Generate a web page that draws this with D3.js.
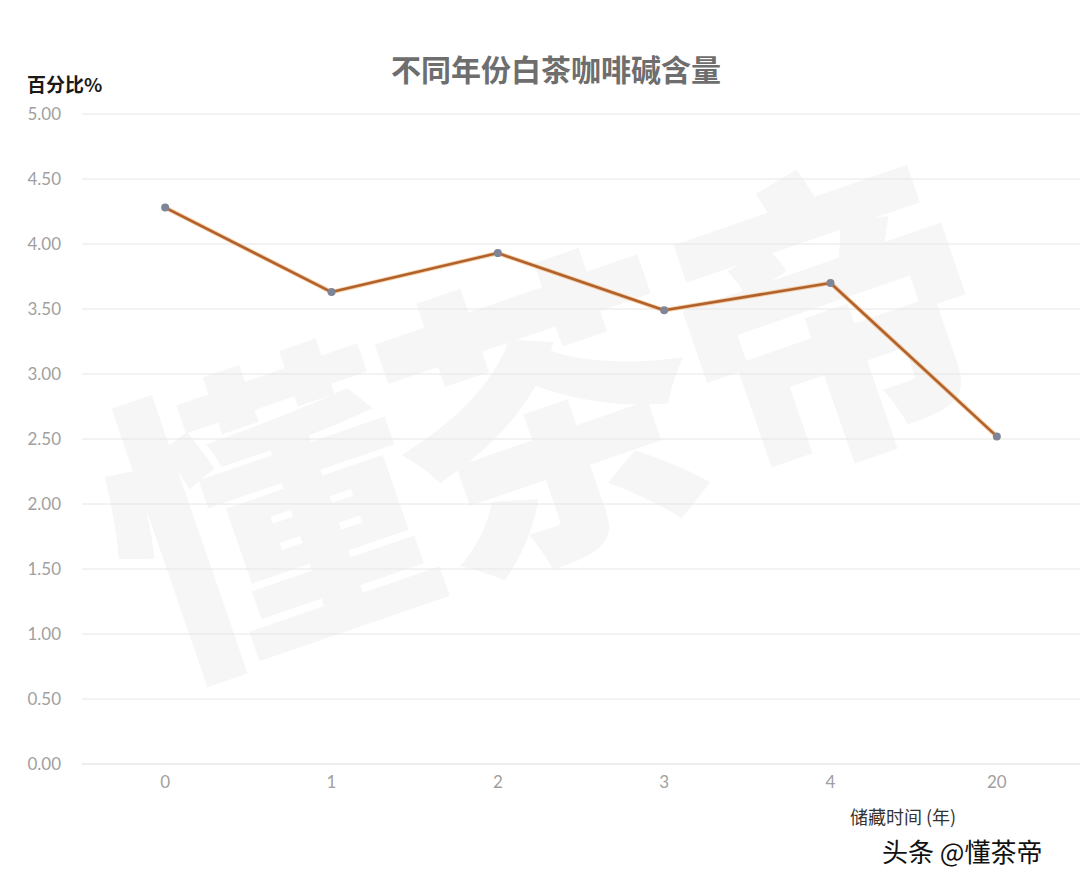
<!DOCTYPE html>
<html>
<head>
<meta charset="utf-8">
<script src="https://cdn.jsdelivr.net/npm/d3@7"></script>
<style>
  html, body { margin: 0; padding: 0; background: #fff; }
  svg { display: block; }
</style>
</head>
<body>
<svg id="chart" width="1080" height="881"></svg>
<script>
// Storage years and caffeine content (%)
const years = ["0", "1", "2", "3", "4", "20"];
const caffeine = [4.28, 3.63, 3.93, 3.49, 3.70, 2.52];
const yTicks = [0, 0.5, 1, 1.5, 2, 2.5, 3, 3.5, 4, 4.5, 5];

const title = "不同年份白茶咖啡碱含量";
const yLabel = "百分比%";
const xLabel = "储藏时间 (年)";
const brand = "头条 @懂茶帝";
const watermark = "懂茶帝";

const W = 1080, H = 881;
const margin = { left: 82, right: 0, top: 114, bottom: 117 };

const svg = d3.select("#chart");
const font = "'Noto Sans CJK SC', 'Noto Sans', sans-serif";

// Large faint watermark behind the plot
svg.append("text")
  .attr("transform", "translate(535,400) rotate(-19)")
  .attr("text-anchor", "middle")
  .attr("dominant-baseline", "central")
  .attr("font-family", font)
  .attr("font-weight", 900)
  .attr("font-size", 310)
  .attr("letter-spacing", -10)
  .attr("fill", "#f6f6f7")
  .text(watermark);

const x = d3.scaleBand()
  .domain(years)
  .range([margin.left, W - margin.right]);

const y = d3.scaleLinear()
  .domain([0, 5])
  .range([H - margin.bottom, margin.top]);

// Horizontal grid lines
svg.append("g")
  .selectAll("line")
  .data(yTicks)
  .join("line")
  .attr("x1", margin.left)
  .attr("x2", W)
  .attr("y1", d => y(d))
  .attr("y2", d => y(d))
  .attr("stroke", d => d === 0 ? "#dcdcdc" : "#e6e6e6")
  .attr("stroke-width", 1);

// Y axis labels
const yAxis = d3.axisLeft(y).tickValues(yTicks).tickFormat(d3.format(".2f")).tickSize(0).tickPadding(0);
const gy = svg.append("g")
  .attr("transform", `translate(61,0)`)
  .call(yAxis);
gy.select(".domain").remove();
gy.selectAll("text")
  .attr("font-family", "Lato, 'Open Sans', sans-serif")
  .attr("font-size", 17)
  .attr("fill", "#a0a0a0");

// X axis labels
const xAxis = d3.axisBottom(x).tickSize(0).tickPadding(0);
const gx = svg.append("g")
  .attr("transform", `translate(0,${H - margin.bottom + 12})`)
  .call(xAxis);
gx.select(".domain").remove();
gx.selectAll("text")
  .attr("font-family", "Lato, 'Open Sans', sans-serif")
  .attr("font-size", 17)
  .attr("fill", "#a0a0a0");

// Data line
const line = d3.line()
  .x((d, i) => x(years[i]) + x.bandwidth() / 2)
  .y(d => y(d));

svg.append("path")
  .datum(caffeine)
  .attr("d", line)
  .attr("fill", "none")
  .attr("stroke", "#f0b070")
  .attr("stroke-width", 4.5)
  .attr("stroke-linejoin", "round")
  .attr("opacity", 0.6);

svg.append("path")
  .datum(caffeine)
  .attr("d", line)
  .attr("fill", "none")
  .attr("stroke", "#b1612b")
  .attr("stroke-width", 2.6)
  .attr("stroke-linejoin", "round");

svg.append("g")
  .selectAll("circle")
  .data(caffeine)
  .join("circle")
  .attr("cx", (d, i) => x(years[i]) + x.bandwidth() / 2)
  .attr("cy", d => y(d))
  .attr("r", 4)
  .attr("fill", "#7e8597");

// Title
svg.append("text")
  .attr("x", 556)
  .attr("y", 81)
  .attr("text-anchor", "middle")
  .attr("font-family", font)
  .attr("font-weight", 700)
  .attr("font-size", 30)
  .attr("fill", "#6e6e6e")
  .text(title);

// Y axis title
svg.append("text")
  .attr("x", 27)
  .attr("y", 92)
  .attr("font-family", font)
  .attr("font-weight", 700)
  .attr("font-size", 19)
  .attr("fill", "#1a1a1a")
  .text(yLabel);

// X axis title
svg.append("text")
  .attr("x", 850)
  .attr("y", 824)
  .attr("font-family", font)
  .attr("font-size", 18)
  .attr("fill", "#333")
  .text(xLabel);

// Brand mark, outlined in white
svg.append("text")
  .attr("x", 882)
  .attr("y", 862)
  .attr("font-family", font)
  .attr("font-size", 26)
  .attr("fill", "#111")
  .attr("stroke", "#fff")
  .attr("stroke-width", 3)
  .attr("paint-order", "stroke")
  .text(brand);
</script>
</body>
</html>
